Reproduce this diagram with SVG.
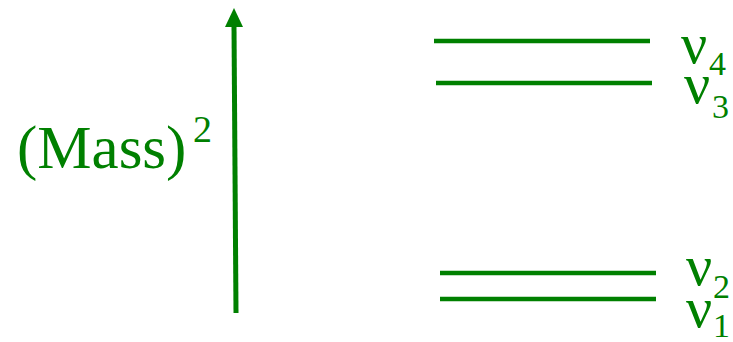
<svg xmlns="http://www.w3.org/2000/svg" width="733" height="342" viewBox="0 0 733 342">
<style>
.lv{stroke:#008000;stroke-width:4.5;fill:none}
.t{fill:#008000;font-family:"Liberation Serif","Times New Roman",serif}
.nu{font-size:58px}
.sub{font-size:34px}
</style>
<g id="connectors">
<line x1="236" y1="313" x2="234" y2="26" stroke="#008000" stroke-width="5"/>
<path d="M234,8 L243,27 L225,27 Z" fill="#008000"/>
</g>
<g id="axis-label">
<text class="t" x="17" y="168" font-size="61">(Mass)<tspan x="193" y="142" font-size="38">2</tspan></text>
</g>
<g id="nu4">
<line class="lv" x1="434" y1="41" x2="650" y2="41"/>
<text class="t nu" x="681" y="63">ν<tspan class="sub" x="709" y="75">4</tspan></text>
</g>
<g id="nu3">
<line class="lv" x1="436" y1="83" x2="652" y2="83"/>
<text class="t nu" x="684" y="103">ν<tspan class="sub" x="712" y="118">3</tspan></text>
</g>
<g id="nu2">
<line class="lv" x1="440" y1="273" x2="656" y2="273"/>
<text class="t nu" x="686" y="285">ν<tspan class="sub" x="713" y="298">2</tspan></text>
</g>
<g id="nu1">
<line class="lv" x1="440" y1="299" x2="656" y2="299"/>
<text class="t nu" x="686" y="327">ν<tspan class="sub" x="713" y="337">1</tspan></text>
</g>
</svg>
